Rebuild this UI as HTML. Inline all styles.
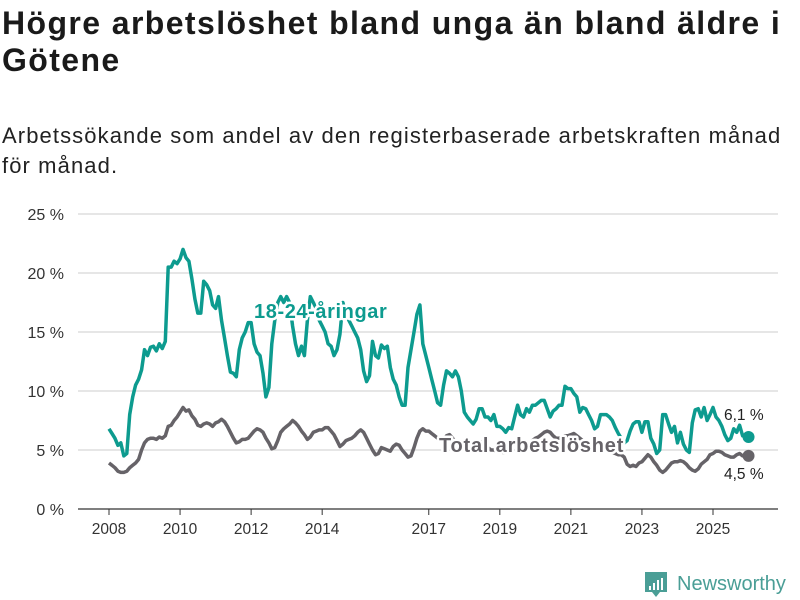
<!DOCTYPE html>
<html><head><meta charset="utf-8"><style>
body{margin:0;background:#fff;width:800px;height:600px;overflow:hidden;font-family:"Liberation Sans",sans-serif;}
#t{position:absolute;left:2px;top:5px;font-size:32px;font-weight:bold;line-height:37px;color:#1a1a1a;width:796px;letter-spacing:1.4px;}
#s{position:absolute;left:2px;top:121px;font-size:22px;line-height:30px;color:#222;width:796px;letter-spacing:1.1px;}
svg{position:absolute;left:0;top:0;}
</style></head><body>
<div id="t">Högre arbetslöshet bland unga än bland äldre i Götene</div>
<div id="s">Arbetssökande som andel av den registerbaserade arbetskraften månad för månad.</div>
<svg id="c" width="800" height="600"></svg>
<script>
const yTicks=[0,5,10,15,20,25];
const xTickYears=[2008,2010,2012,2014,2017,2019,2021,2023,2025];
const youth=[6.8,6.4,6.0,5.4,5.6,4.5,4.7,8.0,9.5,10.5,11.0,11.8,
13.5,13.0,13.7,13.8,13.4,14.0,13.6,14.2,20.5,20.5,21.0,20.8,
21.2,22.0,21.3,21.0,19.5,17.8,16.6,16.6,19.3,19.0,18.5,17.3,
17.0,18.0,16.0,14.5,13.0,11.6,11.5,11.2,13.5,14.5,15.0,15.8,
15.8,14.0,13.3,13.0,11.5,9.5,10.3,14.0,16.0,17.5,18.0,17.5,
18.0,17.5,15.5,14.0,13.0,13.8,13.0,16.0,18.0,17.5,17.0,16.0,
15.5,15.0,14.0,13.8,13.0,13.5,14.8,17.5,16.5,16.0,15.5,15.0,
14.5,13.5,11.7,10.8,11.3,14.2,13.0,12.8,13.9,13.6,13.8,12.0,
11.0,10.5,9.5,8.8,8.8,12.0,13.5,15.0,16.5,17.3,14.0,13.0,
12.0,11.0,10.0,9.0,8.8,10.5,11.7,11.5,11.2,11.7,11.2,10.0,
8.2,7.8,7.5,7.2,7.6,8.5,8.5,7.8,7.8,7.5,8.0,7.0,
7.0,6.8,6.5,6.9,6.8,7.8,8.8,8.0,7.8,8.5,8.2,8.8,
8.8,9.0,9.2,9.2,8.5,7.8,8.3,8.5,8.8,8.8,10.4,10.2,
10.2,9.8,9.5,8.2,8.6,8.5,8.0,7.5,6.8,7.0,8.0,8.0,
8.0,7.8,7.5,6.9,6.4,6.0,5.6,5.8,6.6,7.2,7.4,7.4,
6.5,7.4,7.4,6.0,5.5,4.7,5.0,8.0,8.0,7.2,6.5,7.0,
5.6,6.5,5.5,5.0,4.8,7.3,8.4,8.5,7.8,8.6,7.5,8.0,
8.6,7.8,7.5,7.0,6.3,5.8,6.0,6.8,6.5,7.1,6.2,6.3,
6.1];
const total=[3.9,3.7,3.5,3.2,3.1,3.1,3.2,3.5,3.7,3.9,4.2,5.0,
5.6,5.9,6.0,6.0,5.9,6.1,6.0,6.2,7.0,7.1,7.5,7.8,
8.2,8.6,8.3,8.4,7.9,7.6,7.1,7.0,7.2,7.3,7.2,7.0,
7.3,7.4,7.6,7.4,7.0,6.5,6.0,5.6,5.7,5.9,5.9,6.0,
6.3,6.6,6.8,6.7,6.5,6.0,5.6,5.1,5.2,5.8,6.5,6.8,
7.0,7.2,7.5,7.3,7.0,6.6,6.3,5.9,6.1,6.5,6.6,6.7,
6.7,6.9,6.9,6.6,6.3,5.8,5.3,5.5,5.8,5.9,6.0,6.2,
6.5,6.7,6.5,6.0,5.5,5.0,4.6,4.7,5.2,5.1,5.0,4.9,
5.3,5.5,5.4,5.0,4.7,4.4,4.5,5.2,6.0,6.6,6.8,6.6,
6.6,6.4,6.2,6.0,5.8,5.9,6.2,6.3,6.0,5.7,5.5,5.3,
5.2,5.1,5.0,5.0,5.2,5.5,5.7,5.5,5.2,5.0,5.0,4.9,
4.9,4.8,4.8,5.0,5.3,5.7,6.0,5.8,5.6,5.4,5.5,5.8,
6.0,6.1,6.3,6.5,6.6,6.5,6.2,6.0,6.0,6.1,6.2,6.2,
6.3,6.4,6.2,6.0,5.8,5.6,5.5,5.5,5.4,5.3,5.3,5.3,
5.3,5.0,4.8,4.7,4.6,4.6,4.4,3.8,3.6,3.7,3.6,3.9,
4.0,4.3,4.6,4.4,4.0,3.7,3.3,3.1,3.3,3.6,3.9,4.0,
4.0,4.1,4.0,3.8,3.5,3.3,3.2,3.4,3.8,4.0,4.2,4.6,
4.7,4.9,4.9,4.8,4.6,4.5,4.4,4.4,4.6,4.7,4.5,4.5,
4.5];
const startYear=2008;
const NS='http://www.w3.org/2000/svg';
const svg=document.getElementById('c');
const x=m=>109+m*(604/204);
const y=v=>509-v*11.8;
function mk(t,a){const e=document.createElementNS(NS,t);for(const k in a)e.setAttribute(k,a[k]);svg.appendChild(e);return e;}
yTicks.forEach(v=>{
  const g=mk('line',{x1:78,x2:778,y1:y(v),y2:y(v),stroke:v===0?'#333':'#ddd','stroke-width':v===0?1.2:1.5});
  
  
  const t=mk('text',{x:64,y:y(v)+6,'text-anchor':'end','font-size':16,fill:'#333'});
  t.textContent=v+' %';
  
  
});
xTickYears.forEach(yr=>{
  const m=(yr-startYear)*12;
  const l=mk('line',{x1:x(m),x2:x(m),y1:509,y2:515,stroke:'#333','stroke-width':1});
  
  
  const t=mk('text',{x:x(m),y:534,'text-anchor':'middle','font-size':15.5,fill:'#333'});
  t.textContent=yr;
  
  
});
function line(arr,col,name){
  const p=mk('path',{d:arr.map((v,i)=>(i?'L':'M')+x(i).toFixed(1)+','+y(v).toFixed(1)).join(''),fill:'none',stroke:col,'stroke-width':3.5,'stroke-linejoin':'round'});
  
  
  const n=arr.length-1;
  const c=mk('circle',{cx:x(n),cy:y(arr[n]),r:6,fill:col});
  
  
}
line(total,'#666368','total-line');
line(youth,'#0d9b8f','youth-line');
function lbl(txt,xx,yy,col,sz,w,name,ls){
  const t=mk('text',{x:xx,y:yy,fill:col,'font-size':sz,'font-weight':w,stroke:'#fff','stroke-width':w==='bold'?5:4,'paint-order':'stroke','stroke-linejoin':'round','letter-spacing':ls||0});
  t.textContent=txt;
  
  
}
lbl('18-24-åringar',254,318,'#0d9b8f',20,'bold','youth-series-label',0.6);
lbl('Total arbetslöshet',439,452,'#666368',20,'bold','total-series-label',0.8);
lbl((youth[youth.length-1]+'').replace('.',',')+' %',724,420,'#222',15.5,'normal','youth-end-value');
lbl((total[total.length-1]+'').replace('.',',')+' %',724,479,'#222',15.5,'normal','total-end-value');
const lg=mk('g',{});


const r=document.createElementNS(NS,'path');r.setAttribute('d','M645 572h22v20h-7l-4 5-4-5h-7z');r.setAttribute('fill','#4a9e96');lg.appendChild(r);
[[649,586,2,4],[653,583,2,7],[657,580,2,10],[661,578,2,12]].forEach(b=>{const e=document.createElementNS(NS,'rect');e.setAttribute('x',b[0]);e.setAttribute('y',b[1]);e.setAttribute('width',b[2]);e.setAttribute('height',b[3]);e.setAttribute('fill','#fff');lg.appendChild(e);});
const lt=document.createElementNS(NS,'text');lt.setAttribute('x',677);lt.setAttribute('y',590);lt.setAttribute('font-size',20);lt.setAttribute('fill','#4a9e96');lt.textContent='Newsworthy';lg.appendChild(lt);
</script>
</body></html>
